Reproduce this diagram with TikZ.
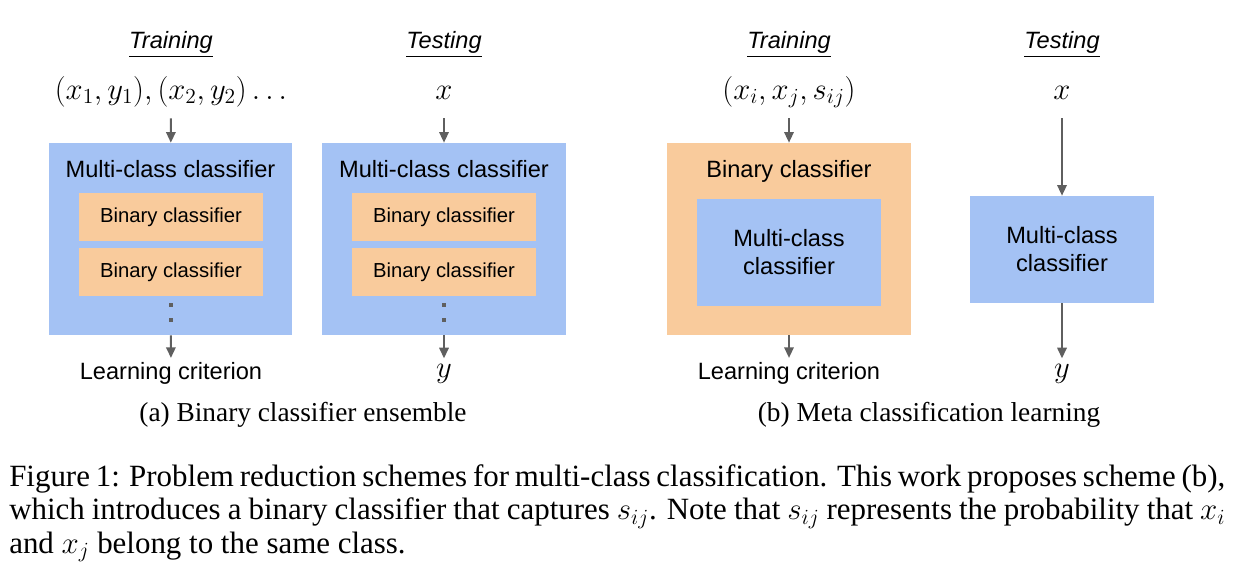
\RequirePackage{fix-cm}
\documentclass[tikz,border=0pt]{standalone}
\usepackage[no-math]{fontspec}
\setmainfont{Liberation Serif}
\newfontfamily\arialfont{Liberation Sans}
\usepackage{amsmath,amssymb}
\usepackage{xcolor}
\usetikzlibrary{arrows.meta}
\definecolor{boxblue}{HTML}{A4C2F4}
\definecolor{boxorange}{HTML}{F9CB9C}
\definecolor{arrgray}{HTML}{5F5F5F}
\newcommand{\lblfont}{\arialfont\fontsize{17.7pt}{21pt}\selectfont}
\newcommand{\binfont}{\arialfont\fontsize{15.2pt}{18pt}\selectfont}
\newcommand{\capfont}{\fontsize{20.5pt}{24.6pt}\selectfont}
\newcommand{\figfont}{\fontsize{23.2pt}{25pt}\selectfont}
\newcommand{\mathfnt}{\fontsize{23pt}{26pt}\selectfont}

\begin{document}
\begin{tikzpicture}[x=0.75pt,y=0.75pt,yscale=-1,xscale=1,
  bigbox/.style={rectangle, inner sep=0, minimum width=182.5pt, minimum height=144pt},
  smallbox/.style={rectangle, fill=boxorange, inner sep=0, minimum width=138pt, minimum height=36pt, font=\binfont},
  midbox/.style={rectangle, fill=boxblue, inner sep=0, minimum width=138pt, minimum height=80.25pt, align=center, font=\lblfont},
  lbl/.style={inner sep=0.75pt, anchor=base, font=\lblfont},
  mathin/.style={inner sep=0.75pt, anchor=base, text height=15pt, text depth=6pt, font=\mathfnt},
  mathout/.style={inner sep=0.75pt, anchor=base, text height=11pt, text depth=5pt, font=\mathfnt},
  dotsq/.style={rectangle, fill=arrgray, inner sep=0, minimum size=3pt},
  arr/.style={draw=arrgray, line width=1.6pt, -{Triangle[width=7pt,length=8pt]}},
  inarr/.style={arr, shorten <=7.5pt},
  outarr/.style={arr, shorten >=2pt}]
\useasboundingbox (0,0) rectangle (1246,579);

%Headers
\node[lbl] (trainA) at (171,48) {\underline{\textit{Training}}};
\node[lbl] (testA) at (444,48) {\underline{\textit{Testing}}};
\node[lbl] (trainB) at (789,48) {\underline{\textit{Training}}};
\node[lbl] (testB) at (1062,48) {\underline{\textit{Testing}}};

%Inputs
\node[mathin] (inA) at (171,99) {$(x_1,y_1),(x_2,y_2)\ldots$};
\node[mathin] (inTA) at (444,99) {$x$};
\node[mathin] (inB) at (789,99) {$(x_i,x_j,s_{ij})$};
\node[mathin] (inTB) at (1062,99) {$x$};

%Shape: (a) training ensemble
\node[bigbox, fill=boxblue] (ensA) at (170.5,239) {};
\node[lbl] (mcA) at (170.5,177) {Multi-class classifier};
\node[smallbox] (binA1) at (171,217) {Binary classifier};
\node[smallbox] (binA2) at (171,272) {Binary classifier};
\node[dotsq] (dotA1) at (171,305) {};
\node[dotsq] (dotA2) at (171,320) {};

%Shape: (a) testing ensemble
\node[bigbox, fill=boxblue] (ensTA) at (444,239) {};
\node[lbl] (mcTA) at (444,177) {Multi-class classifier};
\node[smallbox] (binTA1) at (444,217) {Binary classifier};
\node[smallbox] (binTA2) at (444,272) {Binary classifier};
\node[dotsq] (dotTA1) at (444,305) {};
\node[dotsq] (dotTA2) at (444,320) {};

%Shape: (b) training meta
\node[bigbox, fill=boxorange] (metaB) at (789,239) {};
\node[lbl] (binB) at (789,177) {Binary classifier};
\node[midbox] (mcB) at (789,252.5) {Multi-class\\classifier};

%Shape: (b) testing
\node[midbox] (mcTB) at (1062,249.5) {Multi-class\\classifier};

%Outputs
\node[lbl] (critA) at (171,379) {Learning criterion};
\node[mathout] (outTA) at (444,377) {$y$};
\node[lbl] (critB) at (789,379) {Learning criterion};
\node[mathout] (outTB) at (1062,377) {$y$};

%Arrows
\draw[inarr] (inA) -- (ensA);
\draw[inarr] (inTA) -- (ensTA);
\draw[inarr] (inB) -- (metaB);
\draw[inarr] (inTB) -- (mcTB);
\draw[outarr] (ensA) -- (critA);
\draw[outarr] (ensTA) -- (outTA);
\draw[outarr] (metaB) -- (critB);
\draw[outarr] (mcTB) -- (outTB);

%Sub captions
\node[inner sep=0.75pt, anchor=base, font=\capfont] (capA) at (303,421) {(a) Binary classifier ensemble};
\node[inner sep=0.75pt, anchor=base, font=\capfont] (capB) at (929,421) {(b) Meta classification learning};

%Figure caption
\node[inner sep=0, anchor=base west, font=\figfont] (figl1) at (9,486) {\makebox[912pt][s]{Figure 1: Problem reduction schemes for multi-class classification. This work proposes scheme (b),}};
\node[inner sep=0, anchor=base west, font=\figfont] (figl2) at (9,519.5) {\makebox[912pt][s]{which introduces a binary classifier that captures $s_{ij}$. Note that $s_{ij}$ represents the probability that $x_i$}};
\node[inner sep=0, anchor=base west, font=\figfont] (figl3) at (9,553) {and $x_j$ belong to the same class.};

\end{tikzpicture}
\end{document}
